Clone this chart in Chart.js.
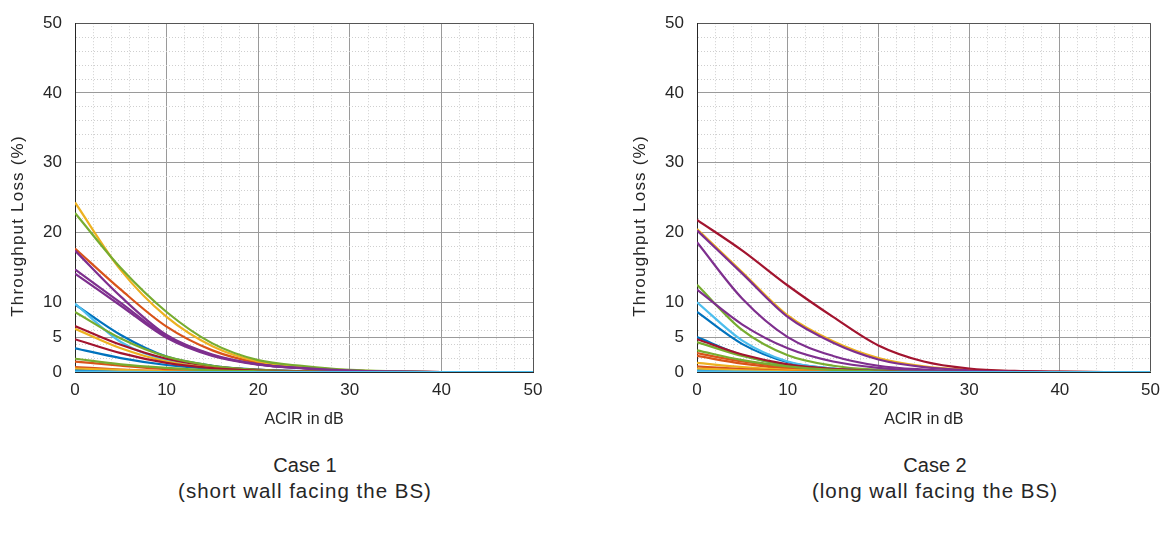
<!DOCTYPE html>
<html>
<head>
<meta charset="utf-8">
<script src="https://cdn.jsdelivr.net/npm/chart.js@4"></script>
<style>
  body { margin: 0; background: #fff; width: 1168px; height: 540px; position: relative; overflow: hidden; font-family: 'Liberation Sans', Arial, sans-serif; color: #262626; }
  .panel { position: absolute; top: 0; }
  .caption { position: absolute; text-align: center; font-size: 20px; line-height: 26px; white-space: nowrap; }
  .caption .sub { letter-spacing: 1px; font-size: 20.5px; }
  .ytitle { position: absolute; width: 240px; height: 20px; line-height: 20px; text-align: center; font-size: 17px; letter-spacing: 1.2px; white-space: nowrap; transform: translate(-50%, -50%) rotate(-90deg); }
</style>
</head>
<body>
<div class="panel" style="left:0"><canvas id="case1Chart" width="560" height="440"></canvas></div>
<div class="panel" style="left:600px"><canvas id="case2Chart" width="568" height="440"></canvas></div>
<div class="ytitle" style="left:18px; top:226px">Throughput Loss (%)</div>
<div class="ytitle" style="left:640px; top:226px">Throughput Loss (%)</div>
<div class="caption" style="left:130px; width:350px; top:452px">Case 1<br><span class="sub">(short wall facing the BS)</span></div>
<div class="caption" style="left:760px; width:350px; top:452px">Case 2<br><span class="sub">(long wall facing the BS)</span></div>

<script>
// ACIR values (dB) where each curve is sampled
const acir = [0, 5, 10, 15, 20, 25, 30, 35, 40, 45, 50]

// tick positions / labels
const xMajorTicks = [0, 10, 20, 30, 40, 50]
const xGridTicks = [0, 2, 4, 6, 8, 10, 12, 14, 16, 18, 20, 22, 24, 26, 28, 30, 32, 34, 36, 38, 40, 42, 44, 46, 48, 50]
const yMajorTicks = [0, 5, 10, 20, 30, 40, 50]
const yGridTicks = [0, 2, 4, 5, 6, 8, 10, 12, 14, 16, 18, 20, 22, 24, 26, 28, 30, 32, 34, 36, 38, 40, 42, 44, 46, 48, 50]

// MATLAB default line colours, cycled
const lineColors = ['#0072BD', '#D95319', '#EDB120', '#7E2F8E', '#77AC30', '#4DBEEE', '#A2142F']

// Case 1: throughput loss (%) per curve
const case1Series = [
    [9.7, 5.3, 2.2, 0.9, 0.35, 0.12, 0.04, 0, 0, 0, 0],
    [17.7, 11.8, 6.5, 3.1, 1.3, 0.55, 0.2, 0.06, 0, 0, 0],
    [24.3, 14.6, 7.9, 3.7, 1.5, 0.7, 0.25, 0.08, 0, 0, 0],
    [17.4, 10.8, 5.3, 2.5, 1.1, 0.55, 0.2, 0.06, 0, 0, 0],
    [22.8, 14.9, 8.6, 4.1, 1.7, 0.85, 0.3, 0.1, 0, 0, 0],
    [9.8, 4.3, 1.7, 0.6, 0.2, 0.06, 0.02, 0, 0, 0, 0],
    [6.6, 3.9, 1.9, 0.8, 0.3, 0.1, 0.03, 0, 0, 0, 0],
    [3.4, 2.0, 1.0, 0.45, 0.18, 0.06, 0.02, 0, 0, 0, 0],
    [1.5, 0.9, 0.4, 0.15, 0.05, 0.02, 0, 0, 0, 0, 0],
    [6.2, 3.4, 1.5, 0.6, 0.2, 0.07, 0.02, 0, 0, 0, 0],
    [14.7, 9.9, 5.1, 2.4, 1.1, 0.55, 0.2, 0.06, 0, 0, 0],
    [8.6, 4.8, 2.2, 0.9, 0.3, 0.1, 0.03, 0, 0, 0, 0],
    [0.1, 0.05, 0.02, 0, 0, 0, 0, 0, 0, 0, 0],
    [4.7, 2.7, 1.3, 0.55, 0.2, 0.07, 0.02, 0, 0, 0, 0],
    [0.3, 0.15, 0.06, 0.02, 0, 0, 0, 0, 0, 0, 0],
    [0.7, 0.35, 0.12, 0.04, 0, 0, 0, 0, 0, 0, 0],
    [0.5, 0.3, 0.1, 0.04, 0, 0, 0, 0, 0, 0, 0],
    [14.1, 9.5, 4.9, 2.3, 1.05, 0.5, 0.18, 0.05, 0, 0, 0],
    [1.9, 1.1, 0.6, 0.25, 0.1, 0.03, 0, 0, 0, 0, 0],
    [0.05, 0.02, 0, 0, 0, 0, 0, 0, 0, 0, 0]
]

// Case 2: throughput loss (%) per curve
const case2Series = [
    [8.6, 4.0, 1.4, 0.5, 0.15, 0.05, 0, 0, 0, 0, 0],
    [2.7, 1.5, 0.7, 0.3, 0.1, 0.03, 0, 0, 0, 0, 0],
    [20.5, 14.3, 8.1, 4.4, 2.0, 0.8, 0.3, 0.1, 0.03, 0, 0],
    [20.3, 14.1, 7.9, 4.2, 1.8, 0.7, 0.25, 0.08, 0.02, 0, 0],
    [12.5, 6.0, 2.4, 0.9, 0.3, 0.1, 0.03, 0, 0, 0, 0],
    [10.0, 4.5, 1.5, 0.5, 0.15, 0.05, 0, 0, 0, 0, 0],
    [21.8, 17.4, 12.4, 7.9, 3.8, 1.5, 0.5, 0.15, 0.05, 0, 0],
    [5.0, 2.4, 1.0, 0.4, 0.12, 0.04, 0, 0, 0, 0, 0],
    [2.3, 1.2, 0.5, 0.2, 0.06, 0.02, 0, 0, 0, 0, 0],
    [1.3, 0.7, 0.3, 0.1, 0.03, 0, 0, 0, 0, 0, 0],
    [18.6, 10.5, 5.0, 2.3, 0.9, 0.35, 0.1, 0.03, 0, 0, 0],
    [4.3, 2.3, 1.0, 0.4, 0.12, 0.04, 0, 0, 0, 0, 0],
    [0.3, 0.15, 0.05, 0, 0, 0, 0, 0, 0, 0, 0],
    [4.7, 2.5, 1.1, 0.45, 0.15, 0.05, 0, 0, 0, 0, 0],
    [0.2, 0.1, 0.04, 0, 0, 0, 0, 0, 0, 0, 0],
    [0.8, 0.4, 0.15, 0.05, 0, 0, 0, 0, 0, 0, 0],
    [0.5, 0.25, 0.1, 0.03, 0, 0, 0, 0, 0, 0, 0],
    [11.8, 6.8, 3.4, 1.5, 0.6, 0.2, 0.05, 0, 0, 0, 0],
    [3.1, 1.7, 0.8, 0.3, 0.1, 0.03, 0, 0, 0, 0, 0],
    [0.1, 0.05, 0, 0, 0, 0, 0, 0, 0, 0, 0]
]

const FONT = "'Liberation Sans', Arial, sans-serif"
const TEXT_COLOR = '#262626'

const isMajor = (list, v) => list.includes(v)

function gridColor(list) {
    return ctx => {
        if (!ctx.tick) return '#262626'
        if (ctx.tick.value === 50) return '#555555'
        return isMajor(list, ctx.tick.value) ? '#9a9a9a' : '#cfcfcf'
    }
}

function gridDash(list) {
    return ctx => (ctx.tick && !isMajor(list, ctx.tick.value)) ? [1, 2] : []
}

/**
 * Build one panel
 * @param {string} canvasId
 * @param {number[][]} series
 * @param {{yAxisWidth: number, rightPad: number}} box
 */
function buildPanel(canvasId, series, box) {
    const ctx = document.getElementById(canvasId).getContext('2d')

    // later curves drawn on top, as in the source plot
    const datasets = series.map((values, i) => ({
        data: acir.map((x, j) => ({ x: x, y: values[j] })),
        borderColor: lineColors[i % lineColors.length],
        borderWidth: 2.2,
        pointRadius: 0,
        cubicInterpolationMode: 'monotone',
        order: -i
    }))

    return new Chart(ctx, {
        type: 'line',
        data: { datasets: datasets },
        options: {
            responsive: false,
            animation: false,
            layout: { padding: { top: 22, right: box.rightPad, bottom: 0, left: 0 } },
            plugins: {
                legend: { display: false },
                tooltip: { enabled: false }
            },
            scales: {
                x: {
                    type: 'linear',
                    min: 0,
                    max: 50,
                    afterBuildTicks: s => { s.ticks = xGridTicks.map(v => ({ value: v })) },
                    afterFit: s => { s.height = 68 },
                    ticks: {
                        autoSkip: false,
                        maxRotation: 0,
                        padding: 8,
                        color: TEXT_COLOR,
                        font: { family: FONT, size: 17 },
                        callback: v => isMajor(xMajorTicks, v) ? String(v) : ''
                    },
                    grid: { color: gridColor(xMajorTicks), drawTicks: false, lineWidth: 1 },
                    border: { display: true, color: '#262626', width: 1, dash: gridDash(xMajorTicks) },
                    title: {
                        display: true,
                        text: 'ACIR in dB',
                        color: TEXT_COLOR,
                        font: { family: FONT, size: 16 },
                        padding: { top: 0, bottom: 11 }
                    }
                },
                y: {
                    type: 'linear',
                    min: 0,
                    max: 50,
                    afterBuildTicks: s => { s.ticks = yGridTicks.map(v => ({ value: v })) },
                    afterFit: s => { s.width = box.yAxisWidth },
                    ticks: {
                        autoSkip: false,
                        padding: 13,
                        color: TEXT_COLOR,
                        font: { family: FONT, size: 17 },
                        callback: v => isMajor(yMajorTicks, v) ? String(v) : ''
                    },
                    grid: { color: gridColor(yMajorTicks), drawTicks: false, lineWidth: 1 },
                    border: { display: true, color: '#262626', width: 1, dash: gridDash(yMajorTicks) },
                    title: { display: false }
                }
            }
        }
    })
}

buildPanel('case1Chart', case1Series, { yAxisWidth: 75, rightPad: 27 })
buildPanel('case2Chart', case2Series, { yAxisWidth: 97, rightPad: 11 })
</script>
</body>
</html>
